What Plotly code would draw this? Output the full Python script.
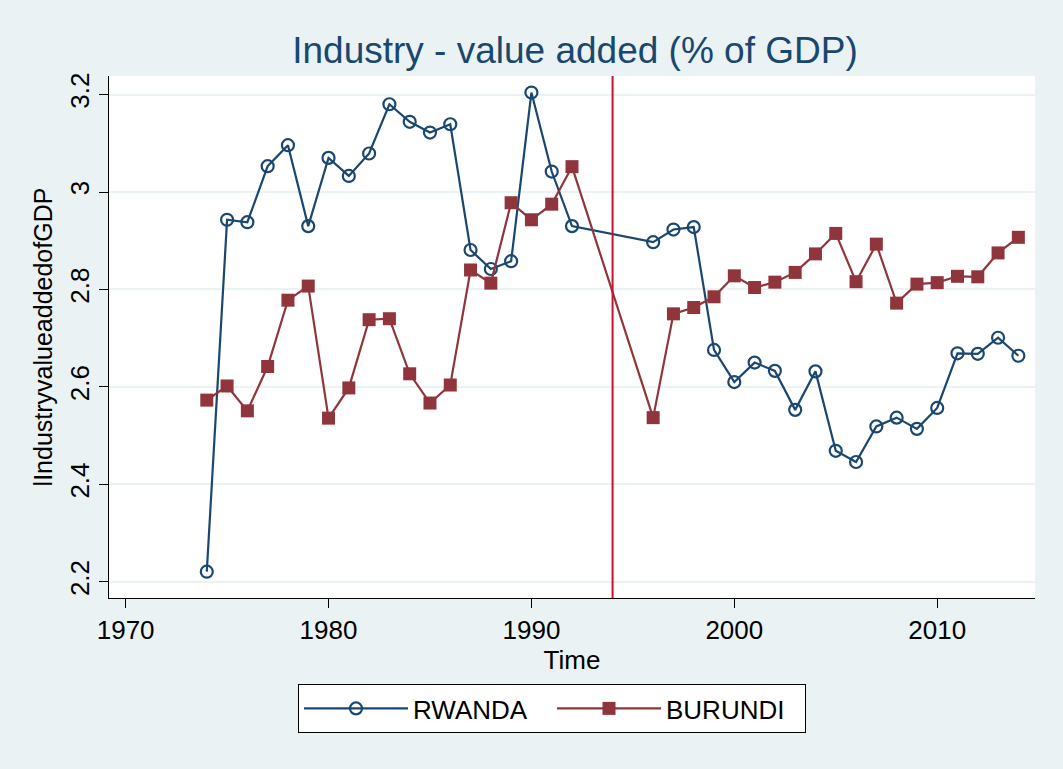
import plotly.graph_objects as go

years_rw = [1974, 1975, 1976, 1977, 1978, 1979, 1980, 1981, 1982, 1983, 1984, 1985, 1986,
            1987, 1988, 1989, 1990, 1991, 1992, 1996, 1997, 1998, 1999, 2000, 2001, 2002,
            2003, 2004, 2005, 2006, 2007, 2008, 2009, 2010, 2011, 2012, 2013, 2014]
rwanda = [2.221, 2.943, 2.938, 3.053, 3.096, 2.930, 3.070, 3.033, 3.079, 3.180, 3.144, 3.122, 3.139,
          2.881, 2.842, 2.858, 3.204, 3.042, 2.930, 2.897, 2.923, 2.928, 2.676, 2.610, 2.650, 2.633,
          2.553, 2.632, 2.469, 2.446, 2.519, 2.537, 2.514, 2.557, 2.669, 2.668, 2.701, 2.664]

years_bu = years_rw
burundi = [2.573, 2.602, 2.551, 2.642, 2.778, 2.807, 2.536, 2.598, 2.738, 2.740, 2.627, 2.567, 2.604,
           2.840, 2.813, 2.978, 2.943, 2.975, 3.052, 2.537, 2.750, 2.763, 2.785, 2.828, 2.804, 2.815,
           2.835, 2.873, 2.915, 2.816, 2.893, 2.772, 2.811, 2.814, 2.827, 2.826, 2.875, 2.907]

event_year = 1994
x_ticks = [1970, 1980, 1990, 2000, 2010]
y_ticks = [2.2, 2.4, 2.6, 2.8, 3.0, 3.2]
y_tick_labels = ["2.2", "2.4", "2.6", "2.8", "3", "3.2"]

NAVY = "#1a476f"
MAROON = "#90353b"
BG = "#eaf2f3"
FONT = "Liberation Sans, Arial, sans-serif"

fig = go.Figure()
fig.add_trace(go.Scatter(
    x=years_rw, y=rwanda, name="RWANDA", mode="lines+markers",
    line=dict(color=NAVY, width=2.2),
    marker=dict(symbol="circle-open", size=12, color=NAVY, line=dict(width=2.2, color=NAVY)),
))
fig.add_trace(go.Scatter(
    x=years_bu, y=burundi, name="BURUNDI", mode="lines+markers",
    line=dict(color=MAROON, width=2.2),
    marker=dict(symbol="square", size=13, color=MAROON),
))

fig.add_shape(type="line", xref="x", yref="paper", x0=event_year, x1=event_year, y0=0, y1=1,
              line=dict(color="#c8102e", width=2))

fig.update_layout(
    width=1063, height=769,
    paper_bgcolor=BG, plot_bgcolor="white",
    margin=dict(l=109, r=28, t=76, b=171, autoexpand=False),
    font=dict(family=FONT, size=26, color="black"),
    title=dict(text="Industry - value added (% of GDP)", xref="container", x=575 / 1063,
               xanchor="center", y=1 - 50 / 769, yanchor="middle",
               font=dict(family=FONT, size=37, color=NAVY)),
    showlegend=True,
    legend=dict(orientation="h", xref="container", yref="container",
                x=552 / 1063, xanchor="center", y=1 - 684 / 769, yanchor="top",
                bgcolor="white", bordercolor="black", borderwidth=1,
                font=dict(family=FONT, size=26, color="black"),
                itemwidth=104, entrywidth=134, traceorder="normal"),
)

fig.update_xaxes(
    range=[1969.18, 2014.82], tickmode="array", tickvals=x_ticks,
    showgrid=False, zeroline=False, automargin=False,
    showline=True, linecolor="black", linewidth=1, mirror=False,
    ticks="outside", ticklen=9, tickcolor="black", tickwidth=1,
    tickfont=dict(size=26),
    title=dict(text="Time", font=dict(size=26), standoff=0),
)
fig.update_yaxes(
    range=[2.167, 3.238], tickmode="array", tickvals=y_ticks, ticktext=y_tick_labels,
    tickangle=-90,
    showgrid=True, gridcolor=BG, gridwidth=2, zeroline=False, automargin=False,
    showline=True, linecolor="black", linewidth=1, mirror=False,
    ticks="outside", ticklen=9, tickcolor="black", tickwidth=1,
    tickfont=dict(size=26),
    title=dict(text="lIndustryvalueaddedofGDP", font=dict(size=25), standoff=4),
)

fig.write_html(
    "out.html",
    config={"displayModeBar": False},
    post_script="document.body.style.margin='0';document.body.style.background='" + BG + "';document.body.style.overflow='hidden';",
)
